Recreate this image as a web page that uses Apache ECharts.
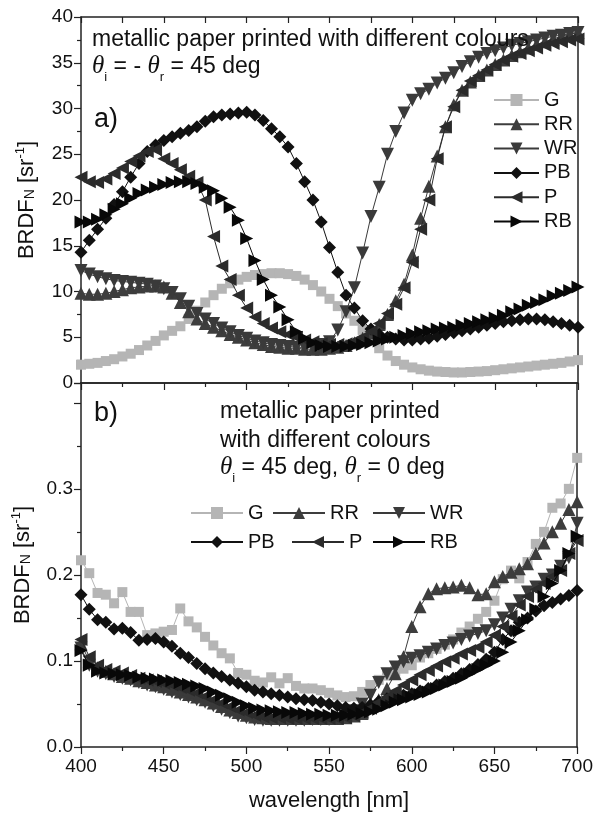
<!DOCTYPE html>
<html><head><meta charset="utf-8">
<script src="https://cdn.jsdelivr.net/npm/echarts@6/dist/echarts.min.js"></script>
<style>html,body{margin:0;padding:0;background:#fff}#c{width:596px;height:816px}</style>
</head><body><div id="c"></div>
<script>
// ---------- DATA ----------
const wavelength = [400,405,410,415,420,425,430,435,440,445,450,455,460,465,470,475,480,485,490,495,500,505,510,515,520,525,530,535,540,545,550,555,560,565,570,575,580,585,590,595,600,605,610,615,620,625,630,635,640,645,650,655,660,665,670,675,680,685,690,695,700];
const seriesNames = ['G','RR','WR','PB','P','RB'];

// panel a) theta_i = -theta_r = 45 deg
const topG  = [2.0,2.1,2.2,2.4,2.6,2.9,3.2,3.6,4.1,4.6, 5.2,5.7,6.2,7.0,7.9,8.8,9.6,10.3,10.9,11.3, 11.6,11.8,11.9,12.0,12.0,11.9,11.7,11.3,10.7,10.0, 9.2,8.4,7.6,6.8,5.8,4.8,3.8,3.0,2.4,2.0, 1.7,1.5,1.35,1.25,1.2,1.15,1.15,1.2,1.25,1.3, 1.4,1.5,1.6,1.7,1.8,1.9,2.0,2.1,2.2,2.35, 2.5];
const topRR = [9.8,9.7,9.7,9.8,10.0,10.2,10.4,10.5,10.6,10.6, 10.5,9.8,8.8,7.8,7.0,6.5,6.1,5.7,5.3,5.0, 4.7,4.4,4.2,4.0,3.9,3.8,3.8,3.7,3.7,3.7, 3.8,3.9,4.1,4.4,4.9,5.5,6.4,7.5,9.0,10.8, 14.0,18.0,21.5,24.8,28.0,30.4,32.0,32.9,33.6,34.2, 34.8,35.3,35.8,36.2,36.6,37.0,37.3,37.6,37.9,38.1, 38.3];
const topWR = [12.3,11.9,11.6,11.4,11.2,11.1,11.0,10.9,10.8,10.6, 10.3,9.9,9.2,8.4,7.6,7.0,6.5,6.0,5.6,5.2, 4.9,4.6,4.4,4.2,4.1,4.0,3.9,3.9,4.0,4.2, 4.5,5.8,7.8,10.4,14.2,18.2,21.4,25.0,27.5,29.5, 30.9,31.6,32.1,32.8,33.3,33.9,34.6,35.1,35.6,36.0, 36.3,36.6,36.9,37.1,37.3,37.5,37.7,37.9,38.0,38.2, 38.3];
const topPB = [14.3,15.6,16.8,18.0,19.5,20.9,22.5,24.0,25.3,26.0, 26.5,26.9,27.3,27.6,28.0,28.6,29.1,29.3,29.4,29.5, 29.6,29.3,28.7,27.8,26.9,25.8,24.0,22.0,20.0,17.6, 14.8,12.1,9.6,8.2,6.8,5.9,5.3,5.0,4.8,4.7, 4.7,4.8,4.9,5.1,5.3,5.5,5.7,5.9,6.1,6.3, 6.5,6.7,6.8,6.9,7.0,7.0,6.9,6.7,6.5,6.3, 6.1];
const topP  = [22.5,22.0,21.9,22.3,22.9,23.5,24.2,24.8,25.3,25.5, 24.5,24.0,23.3,22.6,21.9,20.0,16.0,12.8,11.3,9.6, 8.2,7.2,6.5,6.0,5.6,5.3,5.0,4.7,4.5,4.3, 4.2,4.2,4.3,4.6,5.0,5.6,6.5,7.6,8.6,10.4, 13.2,16.8,20.0,24.5,28.0,30.2,32.0,33.0,33.6,34.2, 34.8,35.3,35.7,36.0,36.3,36.6,36.9,37.1,37.3,37.5, 37.6];
const topRB = [17.6,17.6,17.9,18.4,19.0,19.6,20.2,20.7,21.1,21.4, 21.7,21.9,22.0,22.0,21.8,21.4,21.0,20.2,19.2,17.8, 15.8,13.4,11.3,9.6,8.3,6.9,5.6,4.9,4.4,4.1, 4.0,4.0,4.0,4.1,4.2,4.4,4.6,4.8,5.0,5.2, 5.4,5.6,5.7,5.9,6.0,6.1,6.3,6.5,6.7,6.9, 7.1,7.4,7.8,8.1,8.5,8.8,9.1,9.5,9.8,10.1, 10.5];

// panel b) theta_i = 45 deg, theta_r = 0 deg
const botG  = [0.217,0.202,0.179,0.177,0.167,0.180,0.157,0.157,0.130,0.132, 0.134,0.136,0.161,0.146,0.139,0.128,0.118,0.109,0.103,0.086, 0.084,0.077,0.075,0.081,0.074,0.080,0.071,0.068,0.068,0.066, 0.063,0.060,0.058,0.059,0.064,0.072,0.078,0.083,0.088,0.091, 0.095,0.104,0.109,0.114,0.119,0.125,0.133,0.140,0.149,0.157, 0.170,0.195,0.205,0.196,0.215,0.236,0.250,0.278,0.283,0.300, 0.336];
const botRR = [0.120,0.100,0.092,0.088,0.085,0.082,0.080,0.077,0.075,0.072, 0.070,0.067,0.064,0.061,0.058,0.055,0.051,0.047,0.043,0.040, 0.037,0.035,0.034,0.033,0.033,0.033,0.033,0.033,0.033,0.033, 0.033,0.033,0.034,0.036,0.039,0.046,0.055,0.068,0.085,0.105, 0.140,0.163,0.178,0.184,0.185,0.186,0.188,0.185,0.177,0.178, 0.192,0.198,0.203,0.207,0.213,0.225,0.237,0.250,0.260,0.276, 0.285];
const botWR = [0.115,0.095,0.088,0.085,0.082,0.080,0.078,0.075,0.072,0.070, 0.067,0.064,0.061,0.058,0.055,0.052,0.048,0.044,0.040,0.036, 0.034,0.032,0.031,0.031,0.031,0.031,0.031,0.031,0.032,0.032, 0.032,0.033,0.036,0.042,0.050,0.060,0.075,0.085,0.093,0.099, 0.103,0.106,0.110,0.114,0.118,0.121,0.125,0.129,0.132,0.135, 0.142,0.150,0.160,0.170,0.180,0.186,0.195,0.200,0.210,0.220, 0.260];
const botPB = [0.177,0.160,0.148,0.145,0.137,0.138,0.133,0.124,0.125,0.126, 0.122,0.117,0.109,0.104,0.097,0.091,0.086,0.082,0.078,0.074, 0.070,0.066,0.064,0.062,0.060,0.058,0.056,0.055,0.054,0.052, 0.050,0.048,0.046,0.045,0.046,0.049,0.053,0.056,0.058,0.060, 0.062,0.065,0.068,0.072,0.076,0.080,0.085,0.090,0.096,0.102, 0.110,0.125,0.135,0.145,0.150,0.158,0.164,0.168,0.172,0.176, 0.182];
const botP  = [0.125,0.105,0.095,0.090,0.088,0.086,0.083,0.080,0.078,0.076, 0.074,0.072,0.069,0.066,0.063,0.059,0.055,0.051,0.047,0.043, 0.040,0.037,0.035,0.034,0.034,0.033,0.033,0.033,0.033,0.033, 0.033,0.033,0.034,0.036,0.040,0.045,0.052,0.058,0.065,0.072, 0.078,0.084,0.089,0.094,0.099,0.103,0.108,0.112,0.116,0.122, 0.130,0.140,0.152,0.165,0.175,0.183,0.190,0.198,0.205,0.225, 0.240];
const botRB = [0.112,0.095,0.088,0.086,0.085,0.084,0.083,0.081,0.080,0.079, 0.078,0.077,0.075,0.073,0.071,0.068,0.064,0.060,0.056,0.052, 0.048,0.045,0.043,0.042,0.041,0.040,0.040,0.039,0.038,0.038, 0.037,0.037,0.037,0.038,0.039,0.041,0.044,0.048,0.052,0.055, 0.058,0.061,0.064,0.068,0.072,0.076,0.080,0.085,0.090,0.095, 0.100,0.110,0.122,0.135,0.148,0.160,0.175,0.190,0.205,0.225, 0.245];

const topValues = [topG, topRR, topWR, topPB, topP, topRB];
const botValues = [botG, botRR, botWR, botPB, botP, botRB];

// ---------- STYLE ----------
const FONT = '"Liberation Sans", Arial, sans-serif';
const styles = {
  G:  {color:'#b5b5b5', symbol:'rect',     rot:0,   size:10},
  RR: {color:'#3d3d3d', symbol:'triangle', rot:0,   size:13},
  WR: {color:'#3a3a3a', symbol:'triangle', rot:180, size:13},
  PB: {color:'#111111', symbol:'diamond',  rot:0,   size:13},
  P:  {color:'#2b2b2b', symbol:'triangle', rot:90,  size:13},
  RB: {color:'#080808', symbol:'triangle', rot:-90, size:13}
};

function mkSeries(values, xi, yi) {
  return seriesNames.map((n, i) => {
    const s = styles[n];
    return {
      name: n, type: 'line', xAxisIndex: xi, yAxisIndex: yi,
      data: wavelength.map((w, k) => [w, values[i][k]]),
      symbol: s.symbol, symbolRotate: s.rot, symbolSize: s.size,
      showAllSymbol: true,
      itemStyle: {color: s.color, opacity: 1},
      lineStyle: {color: s.color, width: 1},
      emphasis: {disabled: true},
      animation: false, z: 2 + i
    };
  });
}

const axisLine = {show: true, onZero: false, lineStyle: {color: '#222', width: 1.5}};
const tickStyle = {color: '#222', width: 1.2};

function xAxes(gridIndex, isBottom) {
  return [
    {
      type: 'value', gridIndex, position: 'bottom', min: 400, max: 700, interval: 50,
      axisLine, splitLine: {show: false},
      axisTick: {show: true, inside: false, length: 7, lineStyle: tickStyle},
      minorTick: {show: true, splitNumber: 2, length: 4, lineStyle: tickStyle},
      axisLabel: {show: isBottom, fontFamily: FONT, fontSize: 19, color: '#111', margin: 10},
      name: isBottom ? 'wavelength [nm]' : '', nameLocation: 'middle', nameGap: 43,
      nameTextStyle: {fontFamily: FONT, fontSize: 22, color: '#111'}
    },
    {
      type: 'value', gridIndex, position: 'top', min: 400, max: 700, interval: 50,
      axisLine, splitLine: {show: false},
      axisTick: {show: !isBottom, inside: true, length: 6, lineStyle: tickStyle},
      minorTick: {show: !isBottom, splitNumber: 2, length: 6, lineStyle: tickStyle},
      axisLabel: {show: false}
    }
  ];
}

const yName = '{a|BRDF}{n|N}{a| [sr}{p|-1}{a|]}';
const yNameStyle = {
  fontFamily: FONT, fontSize: 22, color: '#111',
  rich: {
    a: {fontFamily: FONT, fontSize: 22, color: '#111', lineHeight: 26},
    n: {fontFamily: FONT, fontSize: 14, color: '#111', verticalAlign: 'bottom', lineHeight: 26, padding: [0,0,3,0]},
    p: {fontFamily: FONT, fontSize: 13, color: '#111', verticalAlign: 'top', lineHeight: 26}
  }
};

function yAxes(gridIndex, cfg) {
  return [
    {
      type: 'value', gridIndex, position: 'left', min: cfg.min, max: cfg.max, interval: cfg.interval,
      axisLine, splitLine: {show: false},
      axisTick: {show: true, inside: false, length: 7, lineStyle: tickStyle},
      minorTick: {show: true, splitNumber: 2, length: 4, lineStyle: tickStyle},
      axisLabel: {fontFamily: FONT, fontSize: 19, color: '#111', margin: 8, formatter: cfg.fmt,
                  showMaxLabel: cfg.showMax},
      name: yName, nameLocation: 'middle', nameGap: 41, nameRotate: 90,
      nameTextStyle: yNameStyle
    },
    {
      type: 'value', gridIndex, position: 'right', min: cfg.min, max: cfg.max, interval: cfg.interval,
      axisLine, splitLine: {show: false}, axisTick: {show: false}, axisLabel: {show: false}
    }
  ];
}

const topYLabels = {min: 0, max: 40, interval: 5, showMax: true, fmt: v => String(v)};
const botYLabels = {min: 0, max: 0.423, interval: 0.1, showMax: false,
  fmt: v => (v > 0.35 ? '' : v.toFixed(1))};

const xa = [...xAxes(0, false), ...xAxes(1, true)];
const ya = [...yAxes(0, topYLabels), ...yAxes(1, botYLabels)];

const legendText = {fontFamily: FONT, fontSize: 20, color: '#111', lineHeight: 20};
const legends = [
  {orient: 'vertical', left: 493, top: 90, itemWidth: 45, itemHeight: 15, itemGap: 4.3,
   data: seriesNames, textStyle: legendText, selectedMode: false, padding: 0},
  {left: 190, top: 503, data: ['G']},
  {left: 272, top: 503, data: ['RR']},
  {left: 372, top: 503, data: ['WR']},
  {left: 190, top: 532, data: ['PB']},
  {left: 291, top: 532, data: ['P']},
  {left: 372, top: 532, data: ['RB']}
].map((l, i) => i === 0 ? l : Object.assign({
  orient: 'horizontal', itemWidth: 52, itemHeight: 15, textStyle: legendText,
  selectedMode: false, padding: 0, itemGap: 5
}, l));

const textFill = '#111';
const thetaRich = {
  n: {fontFamily: FONT, fontSize: 23, fill: textFill, lineHeight: 34, verticalAlign: 'middle'},
  t: {fontFamily: '"Liberation Serif", "DejaVu Serif", serif', fontStyle: 'italic', fontSize: 25, fill: textFill, lineHeight: 34, verticalAlign: 'middle'},
  s: {fontFamily: FONT, fontSize: 13, fill: textFill, lineHeight: 34, verticalAlign: 'bottom'}
};

const graphics = [
  {type: 'text', left: 92, top: 28, z: 20, style: {text: 'metallic paper printed with different colours', font: '23px ' + FONT, fill: textFill}},
  {type: 'text', left: 92, top: 54, z: 20, style: {text: '{t|θ}{s|i}{n| = - }{t|θ}{s|r}{n| = 45 deg}', rich: thetaRich, fill: textFill}},
  {type: 'text', left: 94, top: 106, z: 20, style: {text: 'a)', font: '27px ' + FONT, fill: textFill}},
  {type: 'text', left: 94, top: 400, z: 20, style: {text: 'b)', font: '27px ' + FONT, fill: textFill}},
  {type: 'text', left: 220, top: 400, z: 20, style: {text: 'metallic paper printed', font: '23px ' + FONT, fill: textFill}},
  {type: 'text', left: 220, top: 429, z: 20, style: {text: 'with different colours', font: '23px ' + FONT, fill: textFill}},
  {type: 'text', left: 220, top: 455, z: 20, style: {text: '{t|θ}{s|i}{n| = 45 deg, }{t|θ}{s|r}{n| = 0 deg}', rich: thetaRich, fill: textFill}}
];

const chart = echarts.init(document.getElementById('c'), null, {renderer: 'canvas'});
chart.setOption({
  backgroundColor: '#fff',
  animation: false,
  grid: [
    {left: 81, top: 17, width: 497, height: 366, containLabel: false},
    {left: 81, top: 383, width: 497, height: 364, containLabel: false}
  ],
  xAxis: xa,
  yAxis: ya,
  legend: legends,
  graphic: graphics,
  series: [...mkSeries(topValues, 0, 0), ...mkSeries(botValues, 2, 2)]
});
</script></body></html>
